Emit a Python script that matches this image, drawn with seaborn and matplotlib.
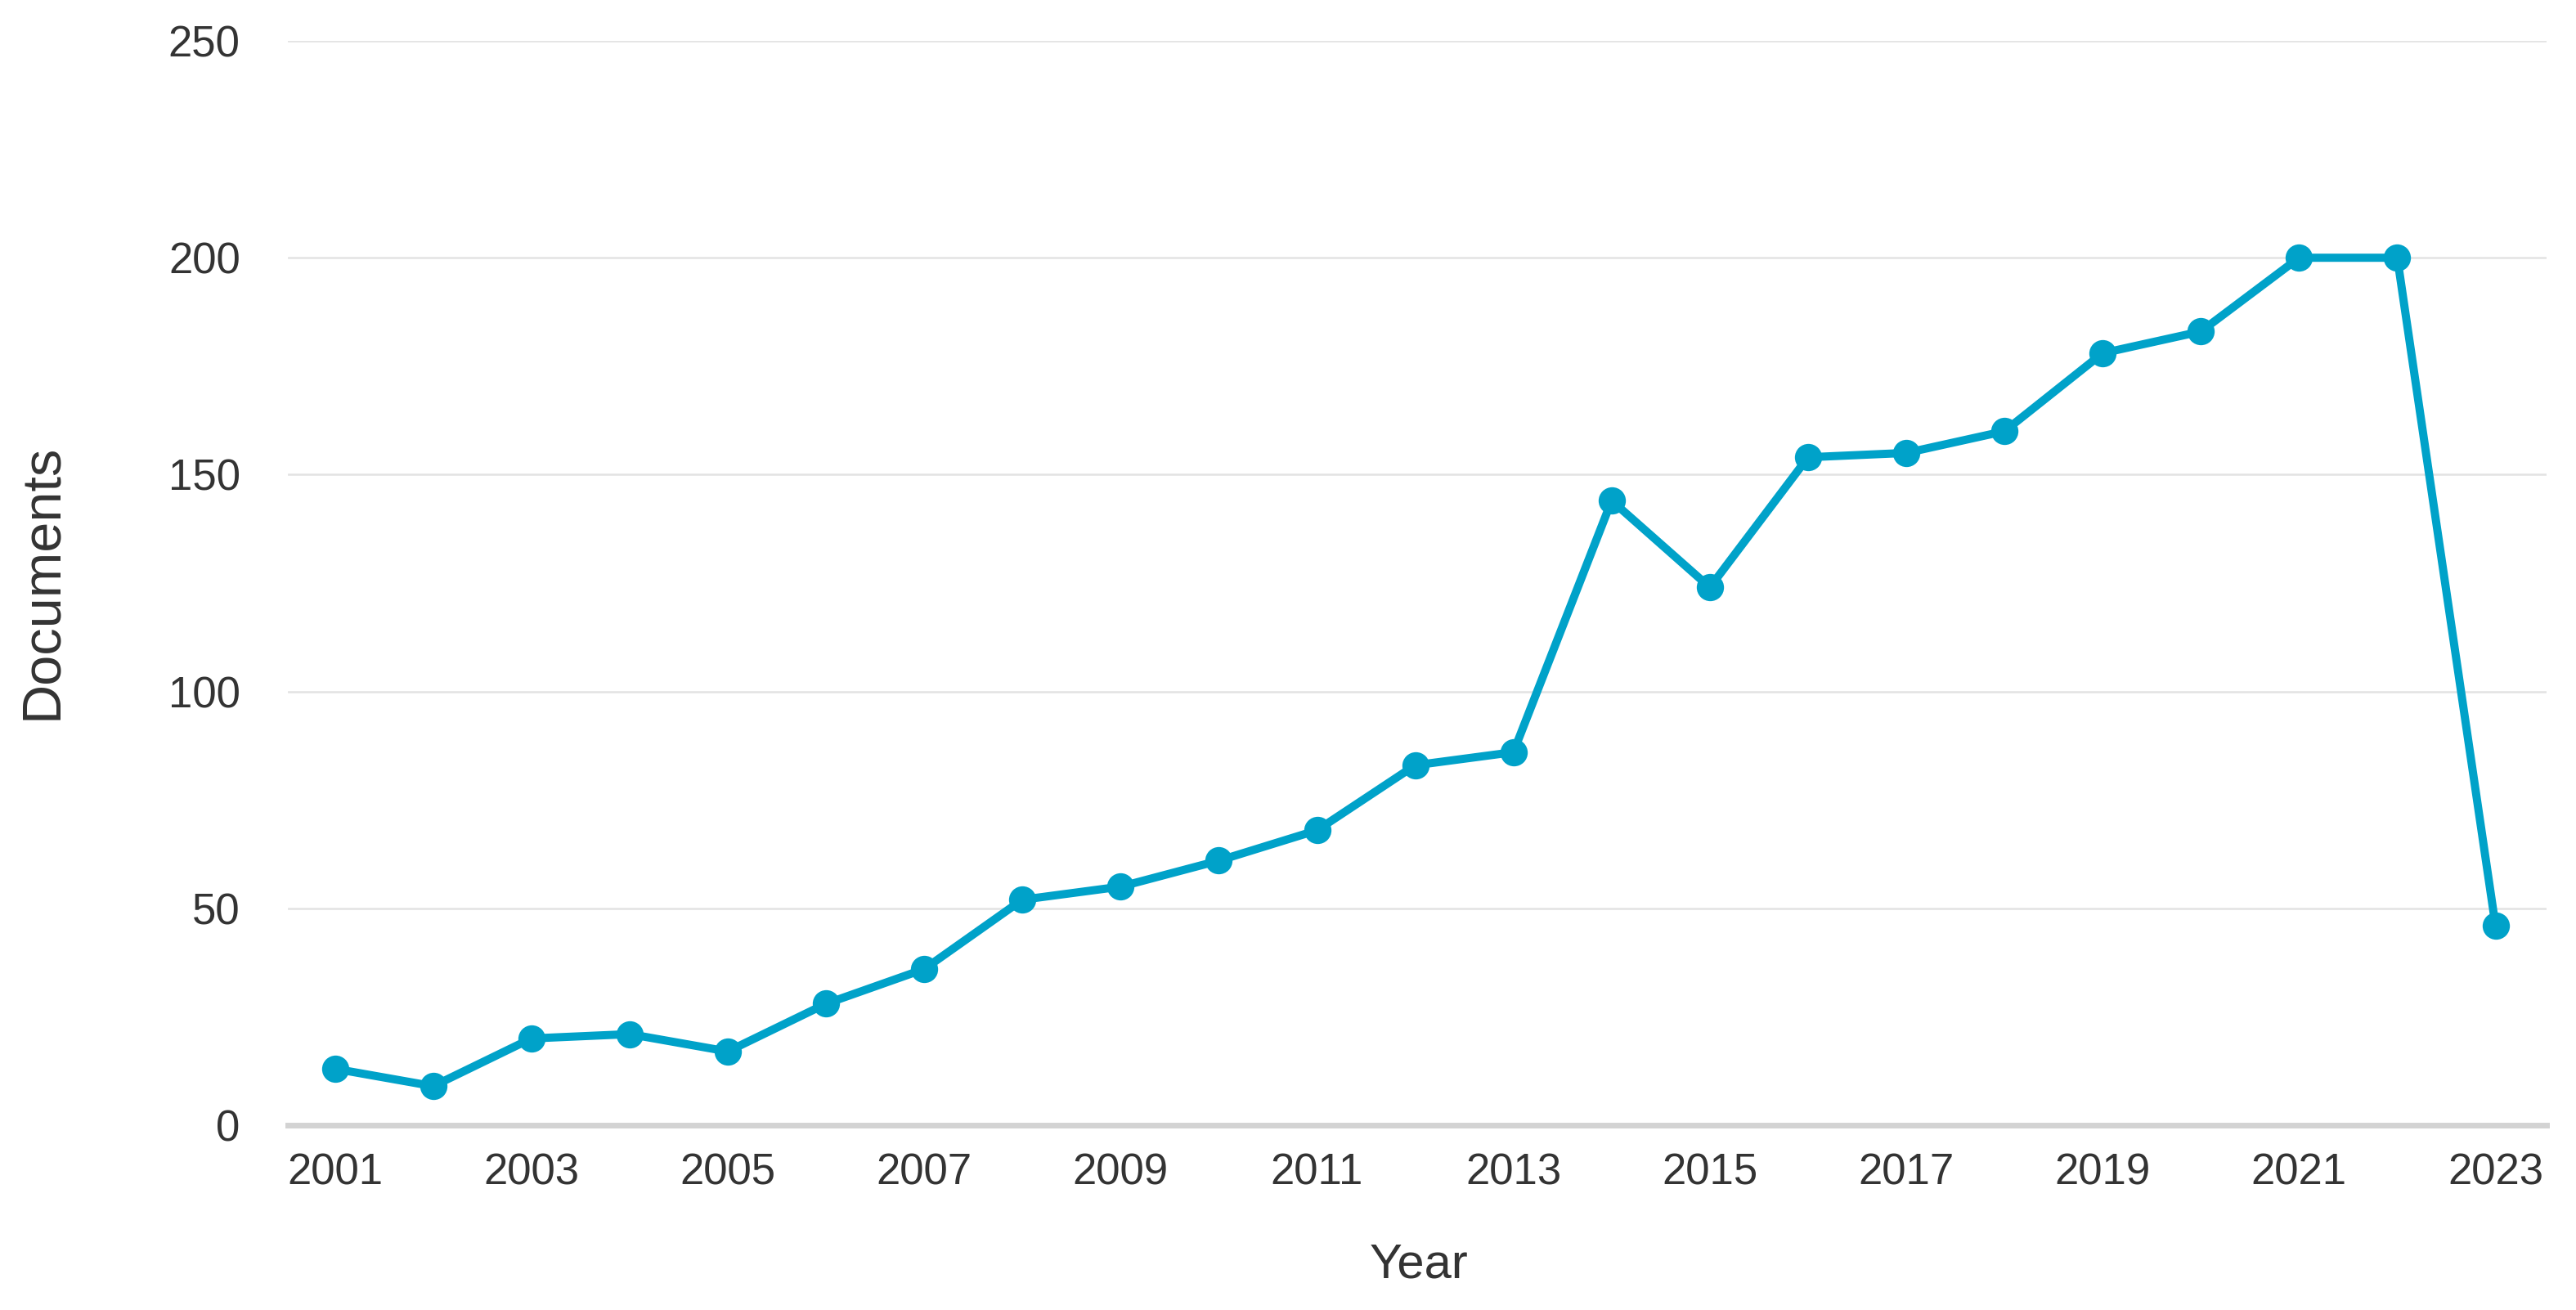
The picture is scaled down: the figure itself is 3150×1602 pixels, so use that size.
import pandas as pd
import seaborn as sns
import matplotlib.pyplot as plt

# documents per year
years = list(range(2001, 2024))
documents = [13, 9, 20, 21, 17, 28, 36, 52, 55, 61, 68, 83, 86,
             144, 124, 154, 155, 160, 178, 183, 200, 200, 46]
year_ticks = list(range(2001, 2024, 2))
doc_ticks = [0, 50, 100, 150, 200, 250]

df = pd.DataFrame({"Year": years, "Documents": documents})

sns.set_theme(style="white")
plt.rcParams['font.family'] = ['Liberation Sans', 'DejaVu Sans']

fig = plt.figure(figsize=(31.5, 16.02), dpi=100)
ax = fig.add_axes([352 / 3150, 1 - 1376 / 1602, 2762 / 3150, 1326 / 1602])

sns.lineplot(data=df, x="Year", y="Documents", ax=ax, color="#00a2c9",
             linewidth=7.2, marker="o", markersize=24, markeredgewidth=0)

ax.set_xlim(2000.52, 2023.52)
ax.set_ylim(0, 250)
ax.set_xticks(year_ticks)
ax.set_yticks(doc_ticks)
ax.set_xticklabels([str(y) for y in year_ticks])

# light horizontal grid, heavier gray baseline
ax.yaxis.grid(True, color="#e3e3e3", linewidth=1.8)
ax.xaxis.grid(False)
ax.set_axisbelow(True)
for side in ["left", "right", "top"]:
    ax.spines[side].set_visible(False)
ax.spines["bottom"].set_color("#d3d3d3")
ax.spines["bottom"].set_linewidth(5)

ax.tick_params(axis="x", length=0, pad=24, labelsize=38, labelcolor="#333333")
ax.tick_params(axis="y", length=0, pad=42, labelsize=38, labelcolor="#333333")

ax.set_xlabel("Year", fontsize=43, color="#333333")
ax.set_ylabel("Documents", fontsize=48, color="#333333")
for lab in (ax.xaxis.label, ax.yaxis.label):
    lab.set_ha("center")
    lab.set_va("center")
ax.xaxis.set_label_coords(0.5007, -0.129)
ax.yaxis.set_label_coords(-0.1086, 0.5015)

fig.savefig("out.png", dpi=100, facecolor="white")
